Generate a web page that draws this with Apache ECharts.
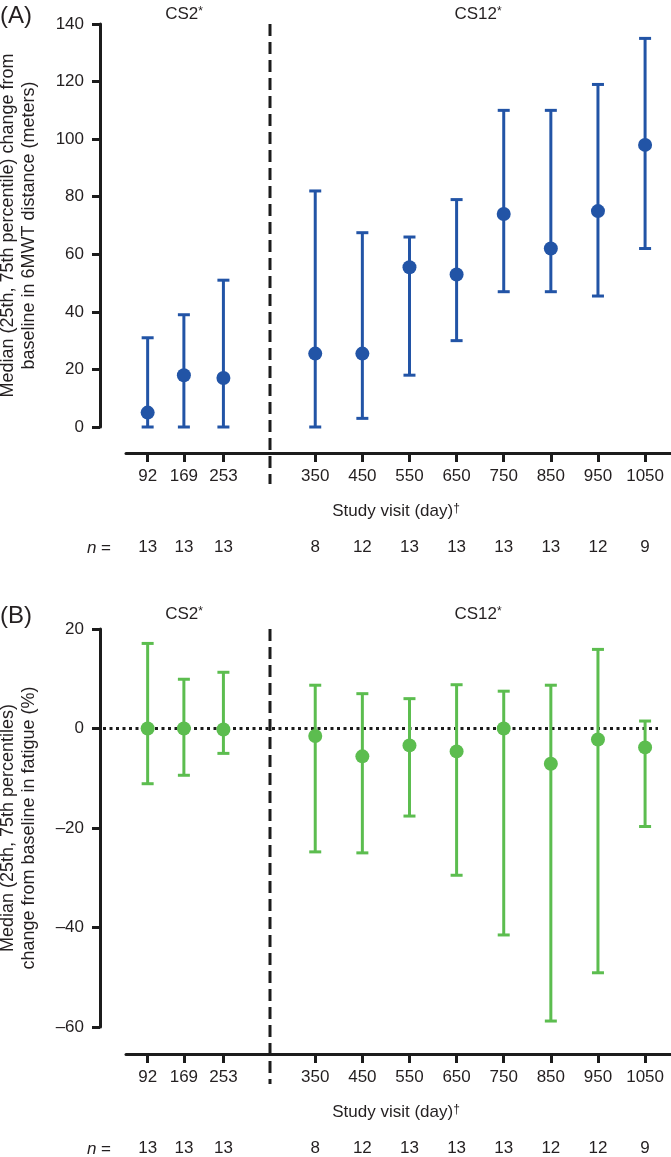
<!DOCTYPE html>
<html>
<head>
<meta charset="utf-8">
<script src="https://cdn.jsdelivr.net/npm/echarts@6/dist/echarts.min.js"></script>
<style>
  html, body { margin: 0; padding: 0; background: #fff; }
  #main { width: 671px; height: 1157px; }
</style>
</head>
<body>
<div id="main"></div>
<script>
// study visit days; first 3 belong to CS2, the rest to CS12
const visitDays = [92, 169, 253, 350, 450, 550, 650, 750, 850, 950, 1050];
const CS2_COUNT = 3;

// (A) 6MWT distance change (meters)
const walkMedian = [5, 18, 17, 25.5, 25.5, 55.5, 53, 74, 62, 75, 98];
const walkQ1 = [0, 0, 0, 0, 3, 18, 30, 47, 47, 45.5, 62];
const walkQ3 = [31, 39, 51, 82, 67.5, 66, 79, 110, 110, 119, 135];
const walkN = [13, 13, 13, 8, 12, 13, 13, 13, 13, 12, 9];

// (B) fatigue change (%)
const fatigueMedian = [0, 0, -0.2, -1.5, -5.6, -3.4, -4.6, 0, -7.1, -2.2, -3.8];
const fatigueQ1 = [-11.1, -9.4, -5, -24.8, -25, -17.6, -29.5, -41.5, -58.8, -49.1, -19.7];
const fatigueQ3 = [17.1, 9.9, 11.3, 8.7, 7, 6, 8.8, 7.5, 8.7, 15.9, 1.5];
const fatigueN = [13, 13, 13, 8, 12, 13, 13, 13, 12, 12, 9];

const INK = '#1c1c1c';
const TXT = '#231f20';
const FONT = '"Liberation Sans", Arial, Helvetica, sans-serif';

const panels = [
  {
    label: '(A)', top: 24, height: 403, yMin: 0, yMax: 140, xOffset: 26, nOffset: 97,
    color: '#2254a6', median: walkMedian, q1: walkQ1, q3: walkQ3, n: walkN,
    name: 'Median (25th, 75th percentile) change from\nbaseline in 6MWT distance (meters)'
  },
  {
    label: '(B)', top: 629, height: 398, yMin: -60, yMax: 20, xOffset: 27, nOffset: 98,
    color: '#5cbd4f', median: fatigueMedian, q1: fatigueQ1, q3: fatigueQ3, n: fatigueN,
    name: 'Median (25th, 75th percentiles)\nchange from baseline in fatigue (%)'
  }
];

// the two study segments share one px/day scale, with a break between them
const segments = [
  { left: 126, width: 144, min: 46, max: 352, from: 0, to: CS2_COUNT },
  { left: 270, width: 401, min: 254, max: 1105, from: CS2_COUNT, to: visitDays.length }
];

const chartDom = document.getElementById('main');
const myChart = echarts.init(chartDom, null, { renderer: 'canvas' });

const option = {
  animation: false,
  backgroundColor: '#fff',
  textStyle: { fontFamily: FONT },
  grid: [],
  xAxis: [],
  yAxis: [],
  series: []
};

function errorBarItem(color) {
  return function (params, api) {
    const x = api.value(0);
    const lo = api.coord([x, api.value(1)]);
    const hi = api.coord([x, api.value(2)]);
    const hw = 6;
    const style = { stroke: color, lineWidth: 3 };
    return {
      type: 'group',
      children: [
        { type: 'line', shape: { x1: lo[0], y1: lo[1], x2: hi[0], y2: hi[1] }, style: style },
        { type: 'line', shape: { x1: lo[0] - hw, y1: lo[1], x2: lo[0] + hw, y2: lo[1] }, style: style },
        { type: 'line', shape: { x1: hi[0] - hw, y1: hi[1], x2: hi[0] + hw, y2: hi[1] }, style: style }
      ]
    };
  };
}

panels.forEach(function (p, k) {
  segments.forEach(function (s, j) {
    const gi = k * 2 + j;
    const days = visitDays.slice(s.from, s.to);
    option.grid.push({
      left: s.left, width: s.width, top: p.top, height: p.height,
      containLabel: false, outerBoundsMode: 'none'
    });
    option.yAxis.push({
      type: 'value', gridIndex: gi, min: p.yMin, max: p.yMax, interval: 20,
      show: j === 0, offset: 26,
      splitLine: { show: false },
      axisLine: { show: true, lineStyle: { color: INK, width: 3 } },
      axisTick: { show: true, length: 8, lineStyle: { color: INK, width: 3 } },
      axisLabel: {
        margin: 16, fontSize: 17, color: TXT, fontFamily: FONT,
        formatter: function (v) { return v < 0 ? '\u2013' + Math.abs(v) : String(v); }
      },
      name: j === 0 ? p.name : '',
      nameLocation: 'middle', nameGap: 60,
      nameTextStyle: { fontSize: 18, lineHeight: 21, color: TXT, fontFamily: FONT }
    });
    const tickAxis = option.xAxis.length;
    option.xAxis.push({
      type: 'value', gridIndex: gi, position: 'bottom', min: s.min, max: s.max,
      offset: p.xOffset,
      splitLine: { show: false },
      axisLine: { show: true, onZero: false, lineStyle: { color: INK, width: 3 } },
      axisTick: { show: true, length: 9, customValues: days, lineStyle: { color: INK, width: 3 } },
      axisLabel: {
        customValues: days, margin: 15, fontSize: 17, color: TXT, fontFamily: FONT,
        formatter: function (v) { return String(v); }
      }
    });
    // n per visit, written on a bare axis below the ticks
    option.xAxis.push({
      type: 'value', gridIndex: gi, position: 'bottom', min: s.min, max: s.max,
      offset: p.nOffset,
      splitLine: { show: false },
      axisLine: { show: false, onZero: false },
      axisTick: { show: false },
      axisLabel: {
        customValues: days, margin: 15, fontSize: 17, color: TXT, fontFamily: FONT,
        formatter: function (v) { return String(p.n[visitDays.indexOf(v)]); }
      }
    });
    const errData = [];
    const dotData = [];
    for (let i = s.from; i < s.to; i++) {
      errData.push([visitDays[i], p.q1[i], p.q3[i]]);
      dotData.push([visitDays[i], p.median[i]]);
    }
    option.series.push({
      type: 'custom', xAxisIndex: tickAxis, yAxisIndex: gi,
      renderItem: errorBarItem(p.color), data: errData, clip: false, z: 3
    });
    option.series.push({
      type: 'scatter', xAxisIndex: tickAxis, yAxisIndex: gi,
      symbol: 'circle', symbolSize: 14, data: dotData,
      itemStyle: { color: p.color, opacity: 1 }, z: 4
    });
  });
});

myChart.setOption(option);

// dividers, zero line and panel texts
const SPLIT_X = segments[1].left;
const supRich = { s: { fontSize: 12, verticalAlign: 'top', fontFamily: FONT, fill: TXT } };
const graphics = [];
panels.forEach(function (p, k) {
  const yAxisIdx = k * 2;
  const bottom = p.top + p.height;
  graphics.push({
    type: 'line', z: 10,
    shape: { x1: SPLIT_X, y1: p.top, x2: SPLIT_X, y2: bottom + 57 },
    style: { stroke: INK, lineWidth: 3, lineDash: [12, 6] }
  });
  if (p.yMin < 0) {
    const y0 = myChart.convertToPixel({ yAxisIndex: yAxisIdx }, 0);
    graphics.push({
      type: 'line', z: 2,
      shape: { x1: 103, y1: y0, x2: 658, y2: y0 },
      style: { stroke: INK, lineWidth: 3, lineDash: [3, 3.5] }
    });
  }
  const labelY = k === 0 ? 16 : 616;
  const csY = k === 0 ? 14 : 614;
  graphics.push({
    type: 'text', x: 0, y: labelY,
    style: { text: p.label, font: '24px ' + FONT, fill: TXT, verticalAlign: 'middle' }
  });
  graphics.push({
    type: 'text', x: 184, y: csY,
    style: { text: 'CS2{s|*}', rich: supRich, font: '17px ' + FONT, fill: TXT, align: 'center', verticalAlign: 'middle' }
  });
  graphics.push({
    type: 'text', x: 478, y: csY,
    style: { text: 'CS12{s|*}', rich: supRich, font: '17px ' + FONT, fill: TXT, align: 'center', verticalAlign: 'middle' }
  });
  graphics.push({
    type: 'text', x: 396, y: bottom + p.xOffset + 58,
    style: { text: 'Study visit (day){s|\u2020}', rich: supRich, font: '17px ' + FONT, fill: TXT, align: 'center', verticalAlign: 'middle' }
  });
  graphics.push({
    type: 'text', x: 111, y: bottom + p.nOffset + 24,
    style: {
      text: '{i|n} =', font: '17px ' + FONT, fill: TXT, align: 'right', verticalAlign: 'middle',
      rich: { i: { fontStyle: 'italic', fontSize: 17, fontFamily: FONT, fill: TXT } }
    }
  });
});
myChart.setOption({ graphic: graphics });
</script>
</body>
</html>
